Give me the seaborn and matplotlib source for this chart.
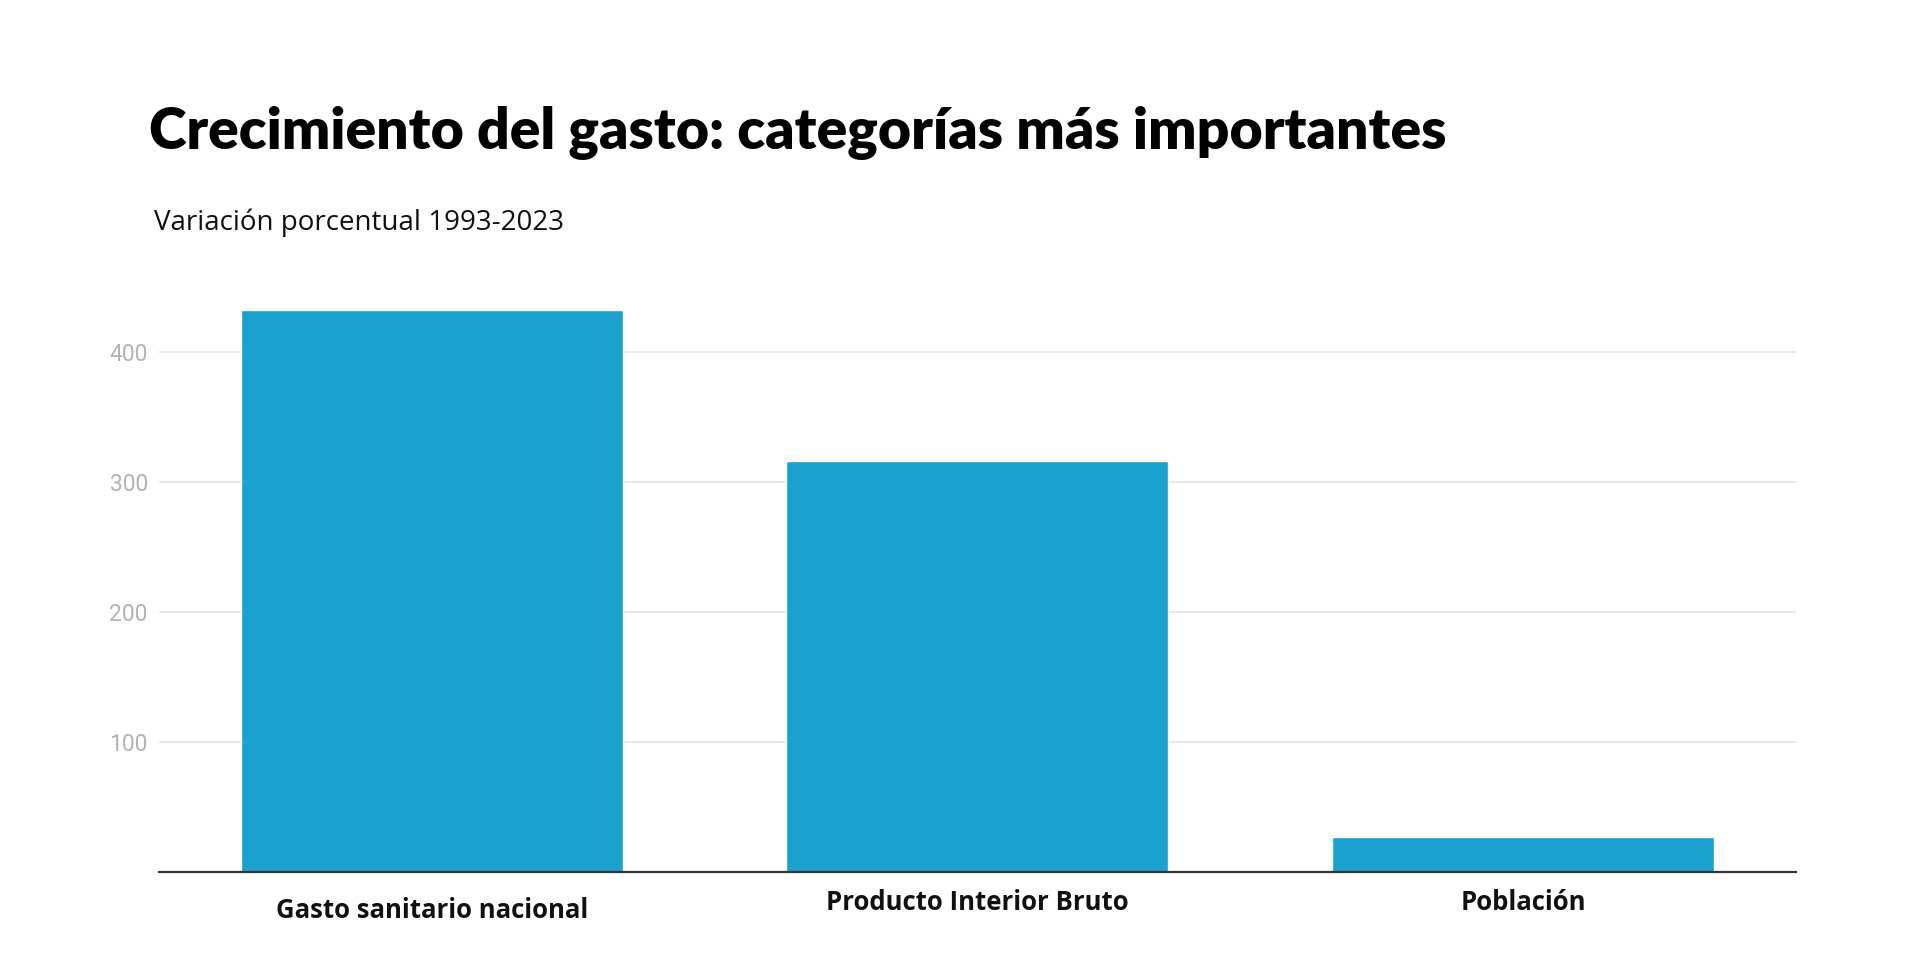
import matplotlib
matplotlib.use("Agg")
import matplotlib.pyplot as plt
import matplotlib.transforms as mtransforms
import pandas as pd
import seaborn as sns

# Data (variación porcentual 1993-2023)
categorias = ["Gasto sanitario nacional", "Producto Interior Bruto", "Población"]
variacion = [432, 316, 27]
yticks = [100, 200, 300, 400]

BAR_COLOR = "#1aa1cd"

sns.set_style("white")
plt.rcParams["font.family"] = ["Open Sans", "DejaVu Sans"]

df = pd.DataFrame({"categoria": categorias, "variacion": variacion})

fig = plt.figure(figsize=(19.2, 9.56), dpi=100)
ax = fig.add_axes([0.0828, 0.0879, 0.8526, 0.612])

sns.barplot(data=df, x="categoria", y="variacion", color=BAR_COLOR,
            saturation=1, width=0.7, ax=ax, zorder=3)

ax.set_xlim(-0.5, 2.5)
ax.set_ylim(0, 450)
ax.set_yticks(yticks)
ax.set_yticklabels([str(v) for v in yticks], family="Roboto",
                   fontsize=16.5, color="#b3b3b3")
ax.set_xticks(range(len(categorias)))
ax.set_xticklabels(categorias, fontsize=18.5, fontweight="bold", color="#111111")
ax.tick_params(axis="y", length=0, pad=8)
ax.tick_params(axis="x", length=0, pad=12)
ax.set_xlabel("")
ax.set_ylabel("")

# light horizontal grid
ax.yaxis.grid(True, color="#e6e6e6", linewidth=1.3, zorder=0)
ax.xaxis.grid(False)
for side in ["top", "right", "left"]:
    ax.spines[side].set_visible(False)
ax.spines["bottom"].set_color("#333333")
ax.spines["bottom"].set_linewidth(1.6)
ax.spines["bottom"].set_zorder(4)

# first category label sits a little lower in the reference
first = ax.get_xticklabels()[0]
first.set_transform(first.get_transform() +
                    mtransforms.ScaledTranslation(0, -6 / 72, fig.dpi_scale_trans))

fig.text(0.0776, 0.844, "Crecimiento del gasto: categorías más importantes",
         family=["Lato", "DejaVu Sans"], fontweight="heavy", fontsize=41,
         color="#000000", va="baseline", ha="left")
fig.text(0.0802, 0.759, "Variación porcentual 1993-2023",
         fontsize=20, color="#111111", va="baseline", ha="left")

fig.savefig("out.png", dpi=100, facecolor="white")
plt.close(fig)
